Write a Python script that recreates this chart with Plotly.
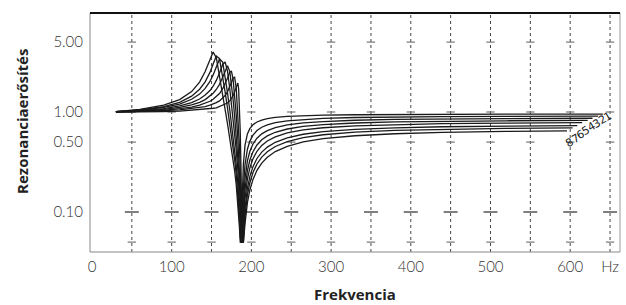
import math
import plotly.graph_objects as go

# Frequency samples (Hz) shared by all curves; each curve then ends at its own end_hz
freq_hz = [30, 60, 90, 110, 125, 135, 142, 148, 152, 156, 160, 164, 167, 170, 173, 175, 177, 179,
           181, 183, 184, 185, 186, 187, 188, 189, 190, 192, 195, 198, 202, 207, 213, 220, 230,
           245, 265, 290, 330, 380, 440, 520]
end_hz = [641, 635, 628, 622, 615, 609, 603, 596]
curve_labels = ["1", "2", "3", "4", "5", "6", "7", "8"]

c1 = [1, 1, 1.01, 1.02, 1.04, 1.05, 1.06, 1.08, 1.09, 1.1, 1.13, 1.16, 1.19, 1.23, 1.3, 1.36, 1.45,
      1.59, 1.81, 1.95, 1.7, 1.17, .642, .264, .0524, .181, .303, .466, .603, .682, .746, .795, .831,
      .858, .882, .903, .918, .929, .939, .945, .949, .952, .954]
c2 = [1, 1.01, 1.03, 1.05, 1.08, 1.1, 1.13, 1.17, 1.2, 1.24, 1.29, 1.37, 1.46, 1.59, 1.79, 1.98, 2.19,
      2.23, 1.73, .987, .689, .453, .267, .122, .05, .099, .177, .298, .424, .509, .587, .652, .704,
      .744, .782, .817, .844, .864, .881, .892, .9, .905, .909]
c3 = [1, 1.02, 1.04, 1.08, 1.12, 1.17, 1.22, 1.28, 1.34, 1.42, 1.53, 1.71, 1.9, 2.18, 2.52, 2.55, 2.14,
      1.49, .934, .541, .393, .269, .165, .0781, .05, .0675, .124, .217, .324, .402, .479, .547, .605,
      .652, .699, .742, .777, .803, .827, .842, .853, .86, .866]
c4 = [1.01, 1.02, 1.06, 1.11, 1.18, 1.25, 1.33, 1.44, 1.54, 1.68, 1.89, 2.23, 2.6, 2.9, 2.52, 1.91,
      1.34, .904, .589, .359, .267, .188, .118, .0566, .05, .0506, .0938, .169, .259, .329, .401, .468,
      .527, .577, .627, .676, .717, .747, .776, .795, .807, .817, .823]
c5 = [1.01, 1.03, 1.08, 1.15, 1.24, 1.35, 1.48, 1.64, 1.81, 2.07, 2.46, 2.99, 3.16, 2.57, 1.68, 1.22,
      .873, .613, .416, .263, .199, .141, .0899, .05, .05, .05, .0746, .137, .213, .275, .341, .405,
      .463, .513, .565, .618, .662, .696, .727, .749, .764, .775, .782]
c6 = [1.01, 1.04, 1.11, 1.2, 1.34, 1.51, 1.72, 2.02, 2.35, 2.83, 3.39, 3.16, 2.32, 1.56, 1.03, .776,
      .579, .422, .296, .192, .147, .106, .068, .05, .05, .05, .0584, .108, .172, .226, .284, .343, .397,
      .446, .498, .552, .599, .636, .671, .695, .712, .724, .732]
c7 = [1.01, 1.05, 1.13, 1.25, 1.44, 1.69, 2, 2.49, 3.02, 3.62, 3.42, 2.31, 1.59, 1.1, .755, .584, .446,
      .332, .236, .156, .12, .0869, .0561, .05, .05, .05, .05, .0921, .148, .195, .248, .302, .354,
      .401, .452, .506, .554, .592, .628, .654, .672, .686, .694]
c8 = [1.01, 1.06, 1.17, 1.33, 1.6, 1.99, 2.54, 3.41, 3.97, 3.49, 2.33, 1.48, 1.06, .767, .55, .435,
      .339, .257, .186, .124, .096, .0699, .05, .05, .05, .05, .05, .0764, .124, .165, .212, .261, .308,
      .353, .402, .454, .502, .541, .579, .606, .625, .639, .647]
curves = [c1, c2, c3, c4, c5, c6, c7, c8]

grid_hz = [50, 100, 150, 200, 250, 300, 350, 400, 450, 500, 550, 600, 650]
mark_levels = [5, 1, 0.5, 0.05]
mark_levels_long = [0.1]
x_tickvals = [0, 100, 200, 300, 400, 500, 600, 650]
x_ticktext = ["0", "100", "200", "300", "400", "500", "600", "Hz"]
y_tickvals = [5, 1, 0.5, 0.1]
y_ticktext = ["5.00", "1.00", "0.50", "0.10"]

TICKFONT = dict(family="Lato", size=15, color="#333", weight=300)

fig = go.Figure()

for gx in grid_hz:
    fig.add_shape(type="line", xref="x", yref="paper", x0=gx, x1=gx, y0=0, y1=1,
                  line=dict(color="#444", width=1, dash="dot"), layer="below")

fig.add_trace(go.Scatter(
    x=[gx for gx in grid_hz for _ in mark_levels], y=[lv for _ in grid_hz for lv in mark_levels],
    mode="markers", showlegend=False, hoverinfo="skip",
    marker=dict(symbol="line-ew", size=6, line=dict(color="#777", width=1.2))))
fig.add_trace(go.Scatter(
    x=[gx for gx in grid_hz for _ in mark_levels_long], y=[lv for _ in grid_hz for lv in mark_levels_long],
    mode="markers", showlegend=False, hoverinfo="skip",
    marker=dict(symbol="line-ew", size=10, line=dict(color="#555", width=1.5))))

for i, vals in enumerate(curves):
    xs = freq_hz + [end_hz[i]]
    fig.add_trace(go.Scatter(x=xs, y=vals, mode="lines", showlegend=False,
                             line=dict(color="#1a1a1a", width=1.3)))
    fig.add_annotation(x=xs[-1], y=math.log10(vals[-1]), text=curve_labels[i], showarrow=False,
                       textangle=-30, xanchor="center", yanchor="middle",
                       xshift=5 - 0.3 * i, yshift=-2 - 1.4 * i,
                       font=dict(family="DejaVu Sans", size=11, color="#222"))

# frame
fig.add_shape(type="line", xref="paper", yref="paper", x0=0, x1=0, y0=0, y1=1, line=dict(color="#888", width=1))
fig.add_shape(type="line", xref="paper", yref="paper", x0=0, x1=1, y0=0, y1=0, line=dict(color="#888", width=1))
fig.add_shape(type="line", xref="paper", yref="paper", x0=1, x1=1, y0=0, y1=1, line=dict(color="#999", width=1))
fig.add_shape(type="line", xref="paper", yref="paper", x0=0, x1=1, y0=1, y1=1, line=dict(color="#111", width=2))

fig.add_annotation(xref="paper", yref="paper", x=-0.128, y=0.545, xanchor="center", yanchor="middle",
                   text="<b>Rezonanciaerősítés</b>", textangle=-90, showarrow=False,
                   font=dict(family="Open Sans", size=15, color="#222"))
fig.add_annotation(xref="paper", yref="paper", x=0.5, y=-0.177, xanchor="center", yanchor="middle",
                   text="<b>Frekvencia</b>", showarrow=False,
                   font=dict(family="Open Sans", size=15, color="#222"))

fig.update_layout(
    width=626, height=305, margin=dict(l=90, r=6, t=13, b=53),
    paper_bgcolor="white", plot_bgcolor="white",
    xaxis=dict(range=[-2.5, 662.5], tickvals=x_tickvals, ticktext=x_ticktext, showgrid=False,
               zeroline=False, showline=False, ticks="", ticklabelstandoff=4, tickfont=TICKFONT),
    yaxis=dict(type="log", range=[-1.40, 0.99], tickvals=y_tickvals, ticktext=y_ticktext,
               showgrid=False, zeroline=False, showline=False, ticks="", ticklabelstandoff=6,
               tickfont=TICKFONT),
)
fig.write_html("out.html", config={"displayModeBar": False},
               post_script="document.body.style.margin='0';")
